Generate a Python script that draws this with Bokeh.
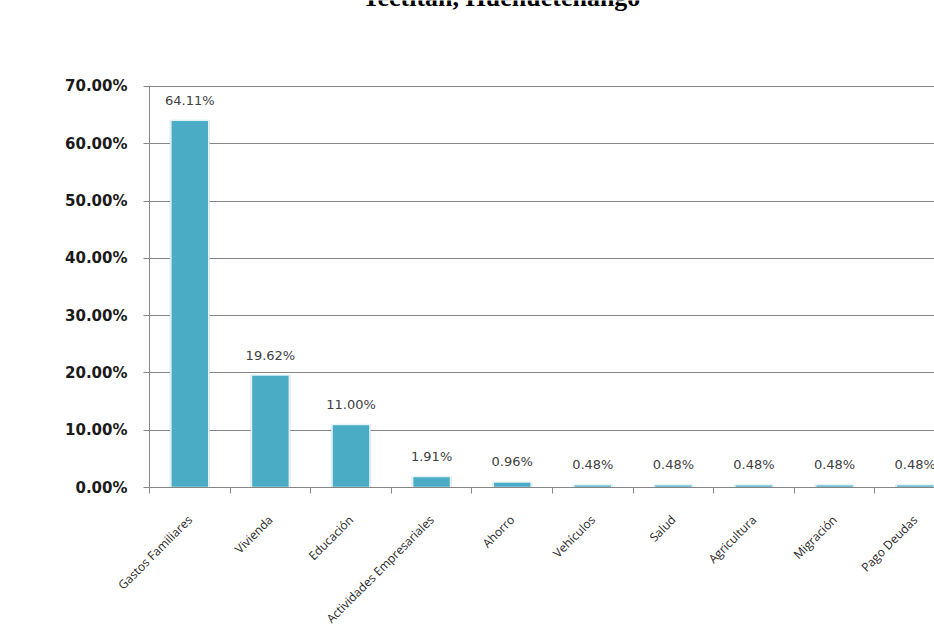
from math import pi
from bokeh.plotting import figure
from bokeh.models import (ColumnDataSource, FixedTicker, SingleIntervalTicker,
                          PrintfTickFormatter, Range1d, Label)
from bokeh.core.properties import value
from bokeh.embed import file_html
from bokeh.resources import INLINE

# ---- data ----
categories = ["Gastos Familiares", "Vivienda", "Educación",
              "Actividades Empresariales", "Ahorro", "Vehículos", "Salud",
              "Agricultura", "Migración", "Pago Deudas"]
values = [64.11, 19.62, 11.00, 1.91, 0.96, 0.48, 0.48, 0.48, 0.48, 0.48]
title_text = "Tectitán, Huehuetenango"
y_max_tick = 70

centers = [i + 0.5 for i in range(len(categories))]
bounds = [float(i) for i in range(len(categories) + 1)]
labels = ["%.2f%%" % v for v in values]

src = ColumnDataSource(dict(x=centers, top=values, lab=labels))

# frame reaches the top of the canvas so the title can sit inside it
p = figure(width=934, height=637, output_backend="svg", toolbar_location=None,
           x_range=Range1d(0, 9.74), y_range=Range1d(0, 85),
           min_border_left=149, min_border_right=0,
           min_border_top=0, min_border_bottom=150)
p.outline_line_color = None
p.background_fill_color = "white"

title = Label(x=213, y=490, x_units="screen", y_units="screen",
              text=title_text, text_font="Liberation Serif",
              text_font_size="26px", text_font_style="bold",
              text_color="#000000", text_baseline="alphabetic")
p.add_layout(title)

# soft shadow behind the bars
p.vbar(x="x", top="top", width=0.5, bottom=0, source=src,
       fill_color="#9a9a9a", fill_alpha=0.3, line_color=None)
p.vbar(x="x", top="top", width=0.47, bottom=0, source=src,
       fill_color="#4bacc6", line_color="#e4f3f7", line_width=1.5)

p.text(x="x", y="top", text="lab", source=src, text_align="center",
       text_baseline="alphabetic", y_offset=-20,
       text_font=value("DejaVu Sans"), text_font_size="13px",
       text_color="#404040")

# y axis
p.yaxis.ticker = SingleIntervalTicker(interval=10)
p.yaxis.bounds = (0, y_max_tick)
p.yaxis.formatter = PrintfTickFormatter(format="%.2f%%")
p.yaxis.axis_line_color = "#868686"
p.yaxis.major_tick_line_color = "#868686"
p.yaxis.major_tick_out = 6
p.yaxis.major_tick_in = 0
p.yaxis.minor_tick_line_color = None
p.yaxis.major_label_standoff = 16
p.yaxis.major_label_text_font = "DejaVu Sans"
p.yaxis.major_label_text_font_style = "bold"
p.yaxis.major_label_text_font_size = "15px"
p.yaxis.major_label_text_color = "#1a1a1a"

# x axis
p.xaxis.ticker = FixedTicker(ticks=centers, minor_ticks=bounds)
p.xaxis.major_label_overrides = {c: n for c, n in zip(centers, categories)}
p.xaxis.major_label_orientation = pi / 4
p.xaxis.axis_line_color = "#868686"
p.xaxis.major_tick_line_color = None
p.xaxis.minor_tick_line_color = "#868686"
p.xaxis.minor_tick_out = 6
p.xaxis.minor_tick_in = 0
p.xaxis.major_label_standoff = 24
p.xaxis.major_label_text_font = "Open Sans"
p.xaxis.major_label_text_font_size = "12px"
p.xaxis.major_label_text_color = "#262626"

p.xgrid.grid_line_color = None
p.ygrid.ticker = FixedTicker(ticks=list(range(0, y_max_tick + 1, 10)))
p.ygrid.grid_line_color = "#868686"
p.ygrid.grid_line_width = 1

open("out.html", "w").write(file_html(p, INLINE))
